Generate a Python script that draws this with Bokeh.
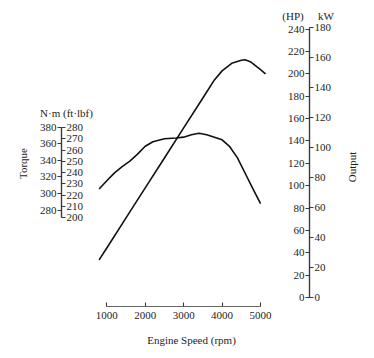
import math
from bokeh.plotting import figure
from bokeh.models import Range1d, LinearAxis, FixedTicker, Label
from bokeh.embed import file_html
from bokeh.resources import INLINE

# ---------------- data ----------------
rpm_power = [800, 1000, 1500, 2000, 2500, 3000, 3500, 3800, 4000, 4250, 4500, 4600, 4750, 5000, 5130]
power_hp = [33.6, 44.3, 71.2, 98.0, 124.7, 151.7, 178.4, 194.5, 202.6, 209.4, 212.1, 212.5, 210.5, 203.8, 200.0]

rpm_torque = [800, 1000, 1200, 1400, 1600, 1800, 2000, 2200, 2500, 2800, 3000, 3200,
              3400, 3600, 3800, 4000, 4200, 4400, 4600, 4800, 5000]
torque_nm = [305.5, 315.5, 325.0, 332.5, 339.0, 347.5, 357.0, 362.5, 366.0, 367.0, 368.0, 370.8,
             372.8, 370.8, 367.8, 364.8, 356.5, 343.0, 324.5, 306.0, 288.0]

rpm_ticks = [1000, 2000, 3000, 4000, 5000]
nm_ticks = [280, 300, 320, 340, 360, 380]
ftlbf_ticks = [200, 210, 220, 230, 240, 250, 260, 270, 280]
hp_ticks = [0, 20, 40, 60, 80, 100, 120, 140, 160, 180, 200, 220, 240]
kw_ticks = [0, 20, 40, 60, 80, 100, 120, 140, 160, 180]

HP_PER_KW = 1.34102
NM_PER_FTLBF = 1.35582

# ---------------- layout constants (page pixels) ----------------
W, H = 366, 356
FRAME_LEFT = 16
FRAME_TOP = 0
FRAME_BOTTOM = 306
PX_PER_RPM = 0.03843
X1000 = 106.3
PX_PER_KW = 1.5
Y_KW0 = 297
PX_PER_FT = 1.125
Y_FT200 = 217

x0 = 1000 - (X1000 - FRAME_LEFT) / PX_PER_RPM
x1 = x0 + (W - FRAME_LEFT) / PX_PER_RPM
kw0 = -(FRAME_BOTTOM - Y_KW0) / PX_PER_KW
kw1 = (Y_KW0 - FRAME_TOP) / PX_PER_KW
ft0 = 200 - (FRAME_BOTTOM - Y_FT200) / PX_PER_FT
ft1 = 200 + (Y_FT200 - FRAME_TOP) / PX_PER_FT


def px_to_rpm(px):
    return 1000 + (px - X1000) / PX_PER_RPM


def py_to_hp(py):
    return (Y_KW0 - py) / PX_PER_KW * HP_PER_KW


FONT = "Liberation Serif"
INK = "#1e1e1e"
AX = "#3a3a3a"

p = figure(width=W, height=H, x_range=Range1d(x0, x1),
           y_range=Range1d(kw0 * HP_PER_KW, kw1 * HP_PER_KW),
           output_backend="svg", toolbar_location=None, y_axis_location=None,
           min_border_left=FRAME_LEFT, min_border_right=0, min_border_top=FRAME_TOP,
           min_border_bottom=H - FRAME_BOTTOM)
p.extra_y_ranges = {
    "nm": Range1d(ft0 * NM_PER_FTLBF, ft1 * NM_PER_FTLBF),
    "ft": Range1d(ft0, ft1),
    "kw": Range1d(kw0, kw1),
}
p.xgrid.visible = False
p.ygrid.visible = False
p.outline_line_color = None
p.background_fill_color = "white"
p.border_fill_color = "white"


def style(ax, tin=0, tout=4, standoff=2):
    ax.axis_line_color = AX
    ax.axis_line_width = 1.2
    ax.major_tick_line_color = AX
    ax.major_tick_line_width = 1.1
    ax.minor_tick_line_color = None
    ax.major_tick_in = tin
    ax.major_tick_out = tout
    ax.major_label_standoff = standoff
    ax.major_label_text_font = FONT
    ax.major_label_text_font_size = "11px"
    ax.major_label_text_color = INK


# x axis
xa = p.xaxis[0]
style(xa, tin=4, tout=0, standoff=5)
xa.ticker = FixedTicker(ticks=rpm_ticks)
xa.bounds = (rpm_ticks[0], rpm_ticks[-1])
xa.axis_line_color = "#666666"
xa.axis_label = "Engine Speed (rpm)"
xa.axis_label_text_font = FONT
xa.axis_label_text_font_size = "11px"
xa.axis_label_text_font_style = "normal"
xa.axis_label_text_color = INK
xa.axis_label_standoff = 12

torque_x = px_to_rpm(61)
output_x = px_to_rpm(309)

nm_axis = LinearAxis(y_range_name="nm", fixed_location=torque_x,
                     ticker=FixedTicker(ticks=nm_ticks),
                     bounds=(ftlbf_ticks[0] * NM_PER_FTLBF, nm_ticks[-1]))
style(nm_axis, standoff=1)
p.add_layout(nm_axis, "left")

ft_axis = LinearAxis(y_range_name="ft", fixed_location=torque_x,
                     ticker=FixedTicker(ticks=ftlbf_ticks),
                     bounds=(ftlbf_ticks[0], ftlbf_ticks[-1]))
style(ft_axis, standoff=1)
p.add_layout(ft_axis, "right")

hp_axis = LinearAxis(fixed_location=output_x, ticker=FixedTicker(ticks=hp_ticks),
                     bounds=(hp_ticks[0], hp_ticks[-1]))
style(hp_axis, standoff=1)
p.add_layout(hp_axis, "left")

kw_axis = LinearAxis(y_range_name="kw", fixed_location=output_x,
                     ticker=FixedTicker(ticks=kw_ticks),
                     bounds=(kw_ticks[0], kw_ticks[-1]))
style(kw_axis, standoff=1)
p.add_layout(kw_axis, "right")

# curves
p.line(rpm_power, power_hp, line_color="#111111", line_width=1.6, line_join="round")
p.line(rpm_torque, torque_nm, y_range_name="nm", line_color="#111111", line_width=1.6,
       line_join="round")


def label(px, py, text, angle=0.0):
    p.add_layout(Label(x=px_to_rpm(px), y=py_to_hp(py), text=text, angle=angle,
                       text_align="center", text_baseline="middle", text_font=FONT,
                       text_font_size="11px", text_color=INK))


label(22, 163, "Torque", math.pi / 2)
label(351.5, 166.5, "Output", math.pi / 2)
label(66, 112.5, "N·m (ft·lbf)")
label(292.5, 15, "(HP)")
label(325.5, 15, "kW")

open("out.html", "w").write(file_html(p, INLINE))
